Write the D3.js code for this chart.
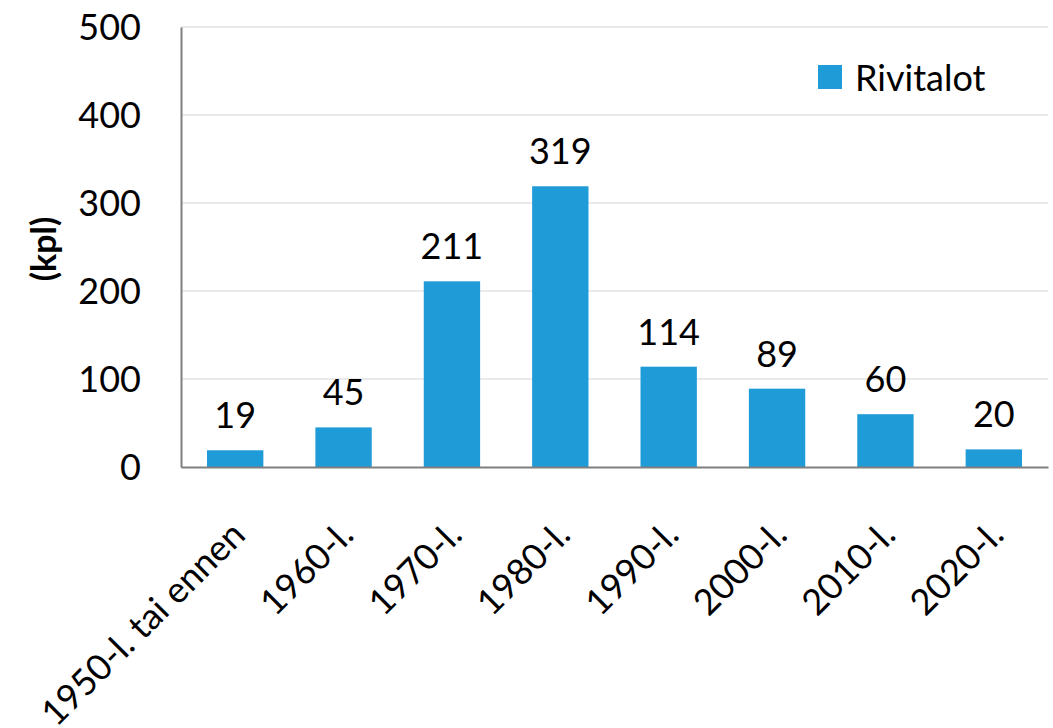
<!DOCTYPE html>
<html>
<head>
<meta charset="utf-8">
<script src="https://cdn.jsdelivr.net/npm/d3@7"></script>
<style>
  html, body { margin: 0; padding: 0; background: #fff; }
  svg { display: block; font-family: Lato, "Open Sans", sans-serif; }
</style>
</head>
<body>
<svg id="chart" width="1053" height="728"></svg>
<script>
const categories = ["1950-l. tai ennen", "1960-l.", "1970-l.", "1980-l.", "1990-l.", "2000-l.", "2010-l.", "2020-l."];
const values = [19, 45, 211, 319, 114, 89, 60, 20];
const yTicks = [0, 100, 200, 300, 400, 500];
const seriesName = "Rivitalot";
const yLabel = "(kpl)";

(function () {
const svg = d3.select("#chart");
const pLeft = 181, pRight = 1048, pTop = 27, pBottom = 467;
const barColor = "#1f9bd7";

const x = d3.scaleBand().domain(categories).range([pLeft, pRight]).paddingInner(0.48).paddingOuter(0.24);
const y = d3.scaleLinear().domain([0, 500]).range([pBottom, pTop]);

// gridlines
svg.append("g").selectAll("line").data(yTicks.filter(d => d > 0)).join("line")
  .attr("x1", pLeft).attr("x2", pRight)
  .attr("y1", d => y(d)).attr("y2", d => y(d))
  .attr("stroke", "#e3e3e3").attr("stroke-width", 1.5);

// bars
svg.append("g").selectAll("rect").data(values).join("rect")
  .attr("x", (d, i) => x(categories[i]))
  .attr("width", x.bandwidth())
  .attr("y", d => y(d))
  .attr("height", d => y(0) - y(d))
  .attr("fill", barColor);

// value labels
svg.append("g").selectAll("text").data(values).join("text")
  .attr("x", (d, i) => x(categories[i]) + x.bandwidth() / 2)
  .attr("y", d => y(d) - 22)
  .attr("text-anchor", "middle")
  .attr("font-size", 36)
  .attr("fill", "#000")
  .text(d => d);

// y axis
const yAxis = d3.axisLeft(y).tickValues(yTicks).tickSize(0).tickPadding(40);
const gy = svg.append("g").attr("transform", `translate(${pLeft},0)`).call(yAxis);
gy.select(".domain").attr("stroke", "#7f7f7f").attr("stroke-width", 2);
gy.selectAll("text").attr("font-size", 36).attr("fill", "#000").attr("font-family", "Lato, 'Open Sans', sans-serif").attr("dy", "0.36em");

// x axis
const xAxis = d3.axisBottom(x).tickSize(0).tickSizeOuter(0);
const gx = svg.append("g").attr("transform", `translate(0,${pBottom})`).call(xAxis);
gx.select(".domain").attr("stroke", "#7f7f7f").attr("stroke-width", 2);
gx.selectAll(".tick text")
  .attr("font-size", 36).attr("fill", "#000").attr("font-family", "Lato, 'Open Sans', sans-serif")
  .attr("text-anchor", "end")
  .attr("x", 0).attr("y", 0).attr("dy", 0)
  .attr("transform", "translate(12,70) rotate(-45)");

// y label
svg.append("text")
  .attr("transform", `translate(56,249) rotate(-90)`)
  .attr("text-anchor", "middle")
  .attr("font-size", 34)
  .attr("font-weight", "bold")
  .attr("fill", "#000")
  .text(yLabel);

// legend
const lg = svg.append("g");
lg.append("rect").attr("x", 818).attr("y", 65).attr("width", 24).attr("height", 24).attr("fill", barColor);
lg.append("text").attr("x", 855).attr("y", 91).attr("font-size", 36).attr("fill", "#000").text(seriesName);
})();
</script>
</body>
</html>
